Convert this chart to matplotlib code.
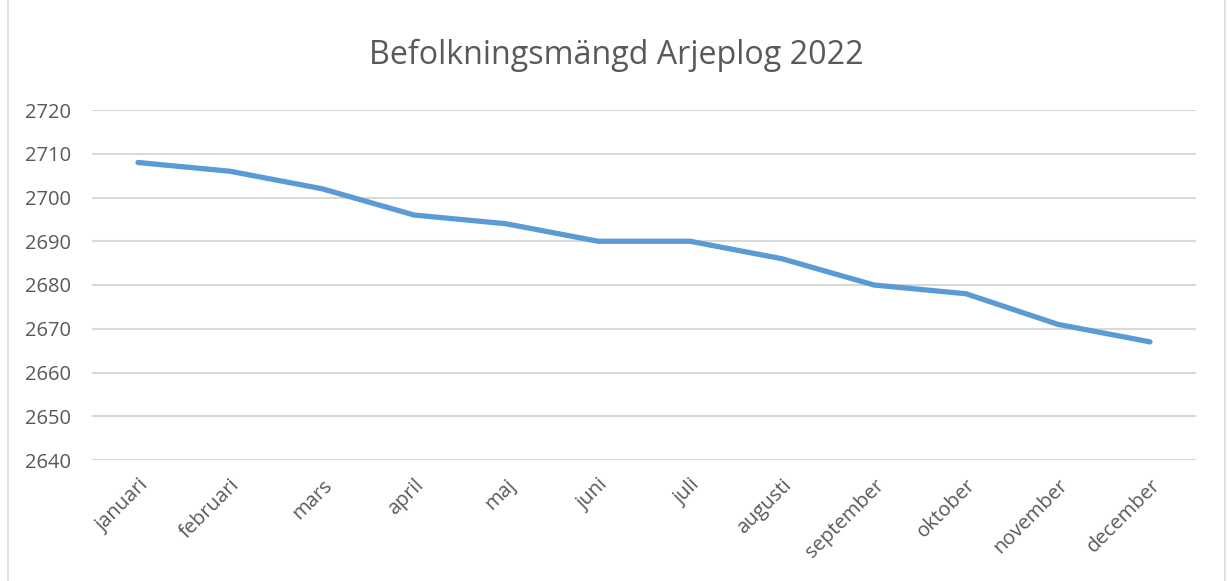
import matplotlib
matplotlib.use("Agg")
import matplotlib.pyplot as plt
from matplotlib.patches import Rectangle

months = ["januari", "februari", "mars", "april", "maj", "juni", "juli",
          "augusti", "september", "oktober", "november", "december"]
population = [2708, 2706, 2702, 2696, 2694, 2690, 2690, 2686, 2680, 2678, 2671, 2667]
y_ticks = [2640, 2650, 2660, 2670, 2680, 2690, 2700, 2710, 2720]
title = "Befolkningsmängd Arjeplog 2022"

plt.rcParams['font.family'] = ['Open Sans', 'DejaVu Sans']
text_color = "#595959"

fig = plt.figure(figsize=(12.27, 5.81), dpi=100)
fig.patch.set_facecolor("white")
fig.patches.append(Rectangle((8 / 1227, -0.01), 1 - 10 / 1227, 1.02,
                             transform=fig.transFigure, fill=False,
                             edgecolor="#d9d9d9", linewidth=1.2))

ax = fig.add_axes([92 / 1227, 1 - 460 / 581, (1196 - 92) / 1227, 350 / 581])
x = list(range(len(months)))
ax.plot(x, population, color="#5b9bd5", linewidth=3.8, solid_capstyle="round",
        solid_joinstyle="round", zorder=3)

ax.set_xlim(-0.5, len(months) - 0.5)
ax.set_ylim(y_ticks[0], y_ticks[-1])
ax.set_yticks(y_ticks)
ax.set_yticklabels([str(v) for v in y_ticks], color=text_color, fontsize=14.5)
ax.set_xticks(x)
ax.set_xticklabels(months, rotation=45, ha="right", rotation_mode="anchor",
                   color=text_color, fontsize=14.5)
ax.tick_params(axis="both", length=0)
ax.tick_params(axis="y", pad=15)
ax.tick_params(axis="x", pad=11)
ax.grid(axis="y", color="#d9d9d9", linewidth=1.5)
ax.set_axisbelow(True)
for s in ax.spines.values():
    s.set_visible(False)

fig.text(616 / 1227, 1 - 55 / 581, title, ha="center", va="center",
         fontsize=23.2, color=text_color)

fig.savefig("out.png", dpi=100, facecolor="white")
